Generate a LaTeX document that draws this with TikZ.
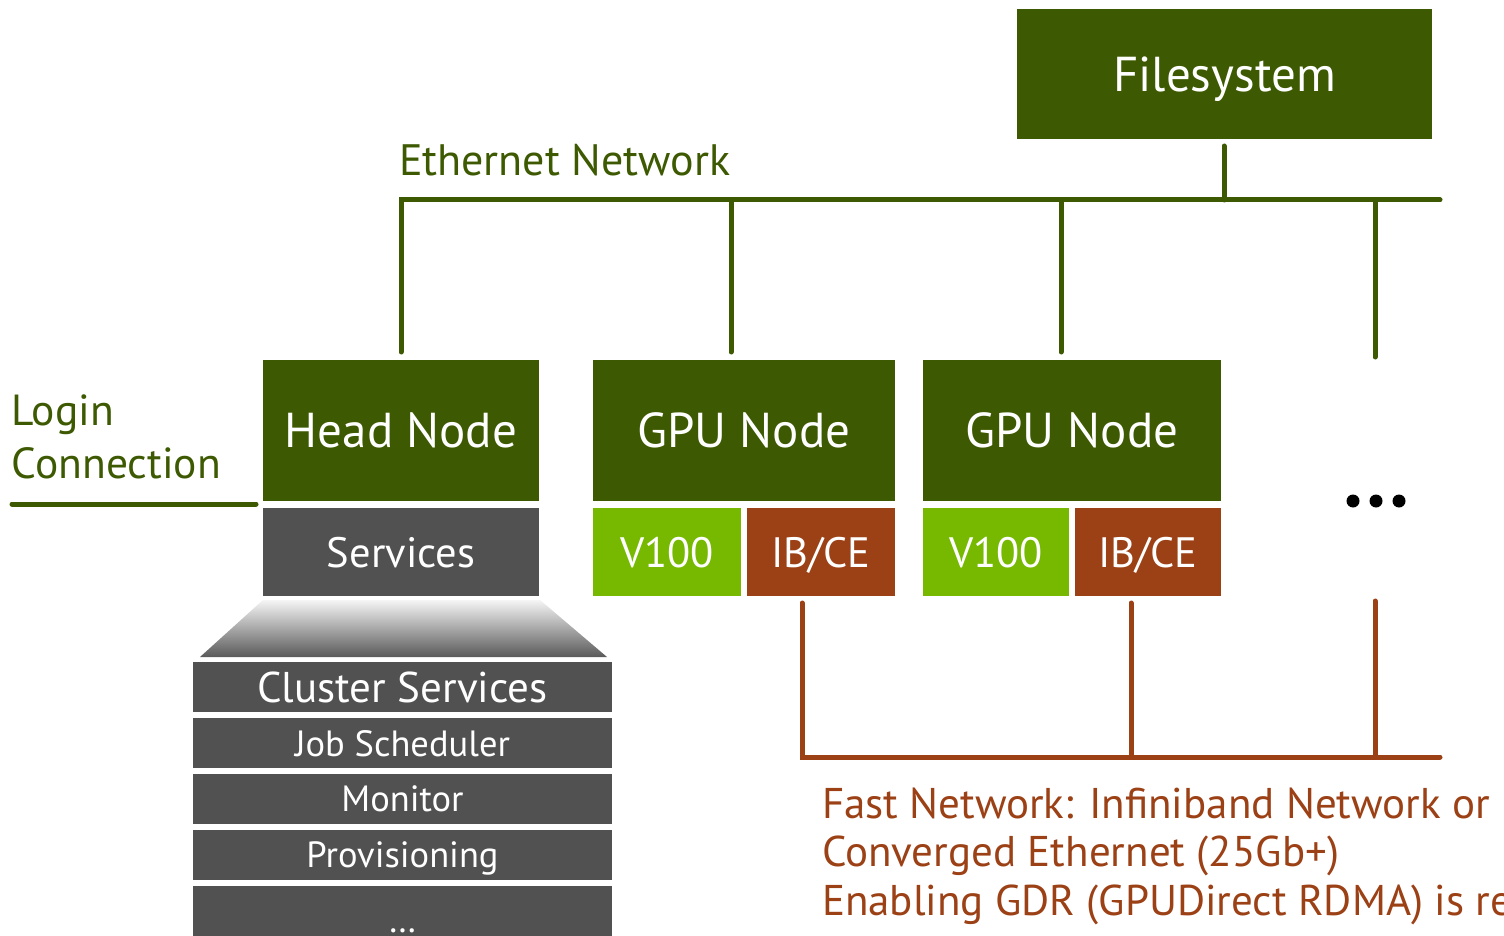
\documentclass[tikz,border=0pt]{standalone}
\usepackage{fontspec}
\setmainfont{PT Sans}
\definecolor{nvdark}{RGB}{61,90,2}
\definecolor{nvgreen}{RGB}{118,185,0}
\definecolor{rust}{RGB}{156,65,22}
\definecolor{svcgray}{RGB}{81,81,81}
\tikzset{
  box/.style={inner sep=0pt, outer sep=0pt, text=white, anchor=center, text depth=0pt},
  nodebox/.style={box, fill=nvdark, font=\fontsize{49}{49}\selectfont},
  subbox/.style={box, minimum height=88pt, font=\fontsize{42.5}{42.5}\selectfont},
  svcrow/.style={box, fill=svcgray, minimum width=419pt, minimum height=50pt, font=\fontsize{36.5}{36.5}\selectfont},
  ethline/.style={draw=nvdark, line width=5pt, line cap=round},
  fastline/.style={draw=rust, line width=5pt, line cap=round},
  label/.style={inner sep=0pt, outer sep=0pt, align=left},
}
\begin{document}
\begin{tikzpicture}[x=1pt, y=-1pt]
\clip (0,0) rectangle (1504,936);
\fill[white] (0,0) rectangle (1504,936);

% storage
\node[nodebox, minimum width=415pt, minimum height=130pt] (fs) at (1224.5,74) {Filesystem};

% compute and head nodes
\node[nodebox, minimum width=276pt, minimum height=141pt] (head) at (401,430.5) {Head Node};
\node[subbox, fill=svcgray, minimum width=276pt] (svc) at (401,552) {Services};

\node[nodebox, minimum width=302pt, minimum height=141pt] (gpu1) at (744,430.5) {GPU Node};
\node[subbox, fill=nvgreen, minimum width=148pt] (v1) at (667,552) {V100};
\node[subbox, fill=rust, minimum width=148pt] (ib1) at (821,552) {IB/CE};

\node[nodebox, minimum width=298pt, minimum height=141pt] (gpu2) at (1072,430.5) {GPU Node};
\node[subbox, fill=nvgreen, minimum width=146pt] (v2) at (996,552) {V100};
\node[subbox, fill=rust, minimum width=146pt] (ib2) at (1148,552) {IB/CE};

% more nodes
\foreach \dx in {1353,1376,1399} \fill[black] (\dx,501) circle (6.5pt);

% cluster services stack
\shade[top color=white!96!black, bottom color=svcgray!95!white]
  (263,600) -- (540,600) -- (607,657) -- (200,657) -- cycle;
\node[svcrow, font=\fontsize{43}{43}\selectfont] (cs) at (402.5,687) {Cluster Services};
\node[svcrow] (js) at (402.5,743) {Job Scheduler};
\node[svcrow] (mon) at (402.5,799) {Monitor};
\node[svcrow] (prov) at (402.5,855) {Provisioning};
\node[svcrow, minimum height=60pt] (more) at (402.5,916) {\raisebox{-0.9ex}{\ldots}};

% ethernet network
\coordinate (eA) at (401,200);
\coordinate (eB) at (731,200);
\coordinate (eC) at (1061,200);
\coordinate (eD) at (1375,200);
\coordinate (eE) at (1440,200);
\coordinate (eF) at (1224,200);
\coordinate (fsdrop) at (1224,146);
\coordinate (hd) at (401,352);
\coordinate (g1d) at (731,352);
\coordinate (g2d) at (1061,352);
\coordinate (xd) at (1375,357);
\draw[ethline] (hd) -- (eA) -- (eE);
\draw[ethline] (g1d) -- (eB);
\draw[ethline] (g2d) -- (eC);
\draw[ethline] (xd) -- (eD);
\draw[ethline] (fsdrop) -- (eF);
\node[label, text=nvdark, anchor=base west, font=\fontsize{44}{44}\selectfont] (ethlbl) at (399,176) {Ethernet Network};

% login connection
\coordinate (lgA) at (12,504);
\coordinate (lgB) at (256,504);
\draw[ethline] (lgA) -- (lgB);
\node[label, text=nvdark, anchor=base west, font=\fontsize{43.5}{53}\selectfont] (login) at (12,478) {Login\\Connection};

% fast network
\coordinate (f1) at (802,603);
\coordinate (f2) at (1131,603);
\coordinate (f3) at (1375,601);
\coordinate (fA) at (802,757);
\coordinate (fB) at (1131,757);
\coordinate (fC) at (1375,757);
\coordinate (fE) at (1440,757);
\draw[fastline] (f1) -- (fA) -- (fE);
\draw[fastline] (f2) -- (fB);
\draw[fastline] (f3) -- (fC);
\node[label, text=rust, anchor=base west, font=\fontsize{43}{48.5}\selectfont] (fastlbl) at (822,915)
  {Fast Network: Infiniband Network or\\Converged Ethernet (25Gb+)\\Enabling GDR (GPUDirect RDMA) is re};
\end{tikzpicture}
\end{document}
